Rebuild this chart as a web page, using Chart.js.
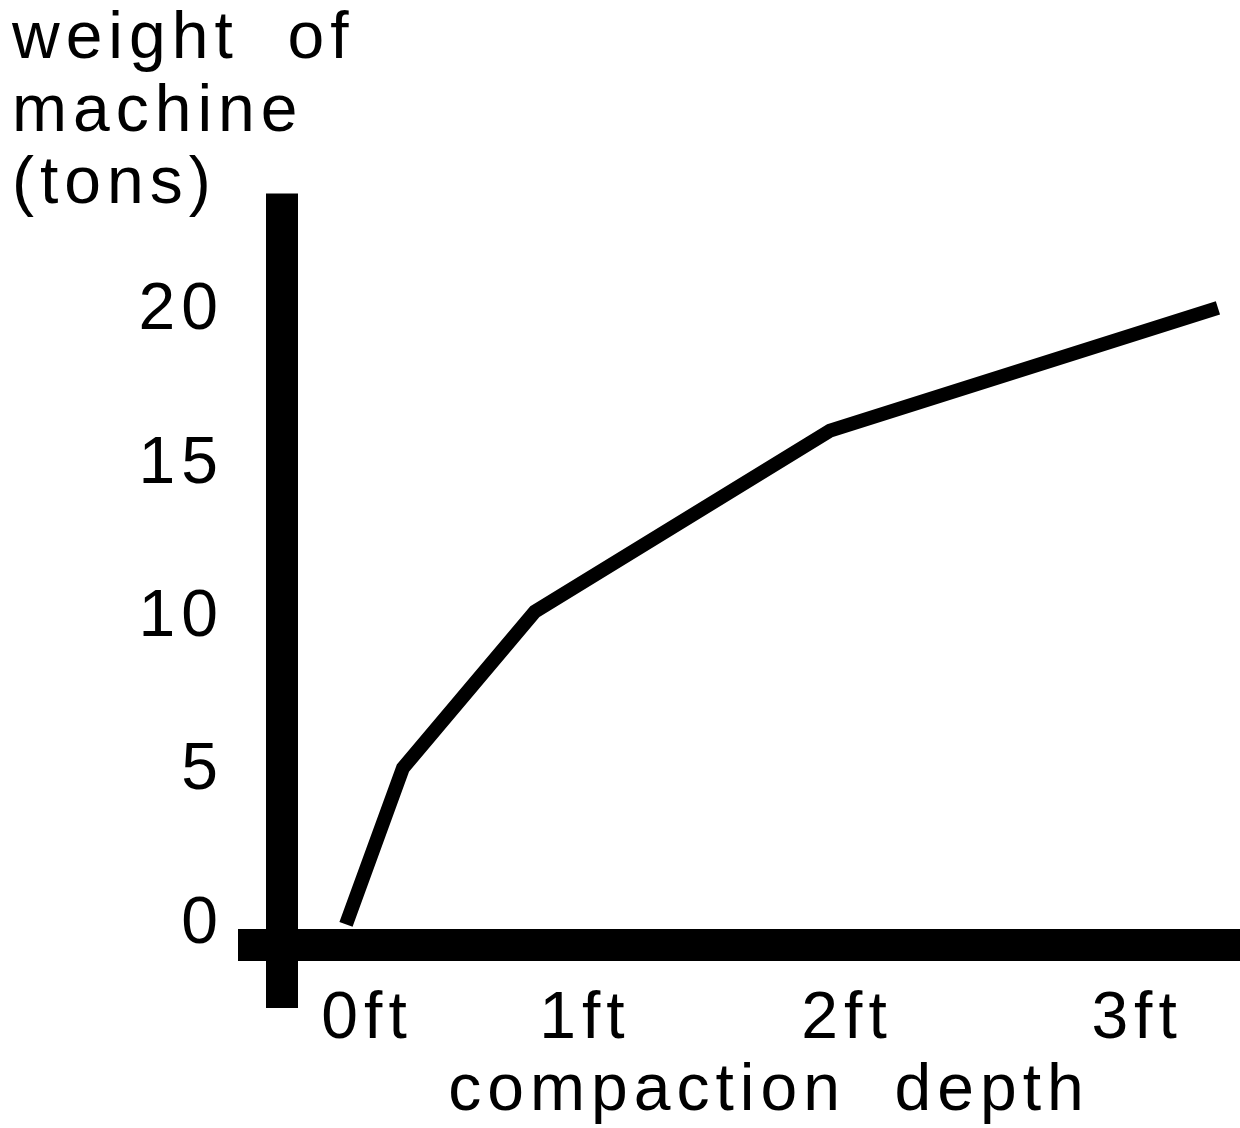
<!DOCTYPE html>
<html>
<head>
<meta charset="utf-8">
<title>compaction depth</title>
<script src="https://cdn.jsdelivr.net/npm/chart.js@4/dist/chart.umd.min.js"></script>
<style>
  html, body { margin: 0; padding: 0; background: #fff; }
  #wrap { width: 1240px; height: 1128px; }
</style>
</head>
<body>
<div id="wrap"><canvas id="lineChart"></canvas></div>
<script>
// 資料 (x 為草圖上的深度位置)
const depthFt = [-0.082, 0.14, 0.654, 1.804, 3.315]
const weightTons = [0, 5.1, 10.2, 16.1, 20.1]
const xTickValues = [0, 0.849, 1.87, 3]
const xTickLabels = ['0ft', '1ft', '2ft', '3ft']
const yTickValues = [0, 5, 10, 15, 20]
const titleLines = ['weight  of', 'machine', '(tons)']
const xTitle = 'compaction  depth'

const bigFont = { family: 'Liberation Sans', size: 66, lineHeight: 1.0985, weight: 'normal' }

Chart.defaults.color = '#000'
Chart.defaults.font.family = 'Liberation Sans'

// 粗黑軸線
const axisBars = {
  id: 'axisBars',
  beforeDraw (chart) {
    chart.ctx.letterSpacing = '6px'
  },
  beforeDatasetsDraw (chart) {
    const { ctx, chartArea } = chart
    ctx.save()
    ctx.fillStyle = '#000'
    ctx.fillRect(chartArea.left - 32, chartArea.top - 50, 32, chartArea.bottom - chartArea.top + 129)
    ctx.fillRect(chartArea.left - 60, chartArea.bottom, chartArea.right - chartArea.left + 60, 32)
    ctx.restore()
  }
}

new Chart(document.getElementById('lineChart'), {
  type: 'line',
  data: {
    datasets: [{
      data: depthFt.map((x, i) => ({ x, y: weightTons[i] })),
      borderColor: '#000',
      borderWidth: 14,
      borderCapStyle: 'butt',
      borderJoinStyle: 'miter',
      pointRadius: 0,
      tension: 0,
      clip: false
    }]
  },
  options: {
    responsive: true,
    maintainAspectRatio: false,
    animation: false,
    layout: { padding: { left: 12, right: 0, top: 0, bottom: 0 } },
    plugins: {
      legend: { display: false },
      tooltip: { enabled: false },
      title: {
        display: true,
        text: titleLines,
        align: 'start',
        color: '#000',
        font: bigFont,
        padding: { top: 4, bottom: 22 }
      }
    },
    scales: {
      x: {
        type: 'linear',
        min: -0.269,
        max: 3.401,
        afterBuildTicks: (s) => { s.ticks = xTickValues.map((v) => ({ value: v })) },
        afterFit: (s) => { s.height = 199 },
        ticks: {
          callback: (v, i) => xTickLabels[i],
          font: bigFont,
          padding: 47,
          autoSkip: false,
          maxRotation: 0
        },
        grid: { display: false },
        border: { display: false },
        title: { display: true, text: xTitle, font: bigFont, padding: 0 }
      },
      y: {
        min: -0.15,
        max: 22.2,
        afterBuildTicks: (s) => { s.ticks = yTickValues.map((v) => ({ value: v })) },
        afterFit: (s) => { s.width = 286 },
        ticks: { font: bigFont, padding: 66 },
        grid: { display: false },
        border: { display: false }
      }
    }
  },
  plugins: [axisBars]
})
</script>
</body>
</html>
